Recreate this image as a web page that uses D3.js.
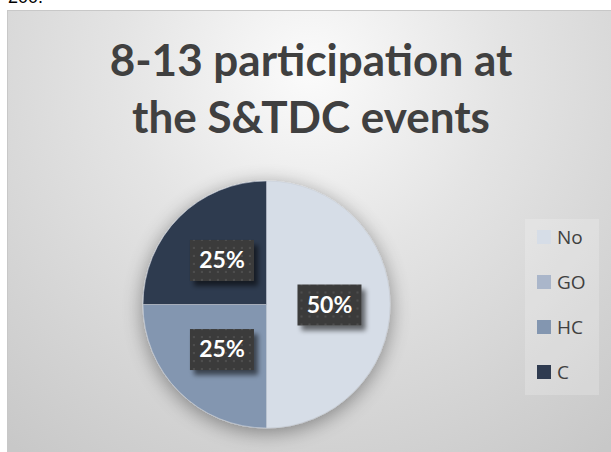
<!DOCTYPE html>
<html>
<head>
<meta charset="utf-8">
<script src="https://cdn.jsdelivr.net/npm/d3@7"></script>
<style>
  html, body { margin: 0; padding: 0; background: #fff; }
  svg { display: block; }
</style>
</head>
<body>
<svg id="chart" width="611" height="452"></svg>
<script>
// Chart data
const categories = ["No", "GO", "HC", "C"];
const values = [50, 0, 25, 25];
const colours = ["#d6dde7", "#aab6ca", "#8396b0", "#2f3b50"];
const titleLines = ["8-13 participation at", "the S&TDC events"];

const svg = d3.select("#chart");
const width = 611, height = 452;
const defs = svg.append("defs");

// Background gradient of the chart area
const bg = defs.append("radialGradient")
    .attr("id", "bgGrad")
    .attr("gradientUnits", "userSpaceOnUse")
    .attr("cx", 310).attr("cy", 70).attr("r", 480);
bg.append("stop").attr("offset", "0%").attr("stop-color", "#fbfbfb");
bg.append("stop").attr("offset", "40%").attr("stop-color", "#e4e4e4");
bg.append("stop").attr("offset", "100%").attr("stop-color", "#c8c8c8");

// Soft shadow for the pie
const pieShadow = defs.append("filter").attr("id", "pieShadow")
    .attr("x", "-30%").attr("y", "-30%").attr("width", "160%").attr("height", "160%");
pieShadow.append("feGaussianBlur").attr("in", "SourceAlpha").attr("stdDeviation", 10).attr("result", "blur");
pieShadow.append("feOffset").attr("dx", 0).attr("dy", 4).attr("result", "off");
pieShadow.append("feComponentTransfer").attr("in", "off").attr("result", "soft")
    .append("feFuncA").attr("type", "linear").attr("slope", 0.4);
const pm = pieShadow.append("feMerge");
pm.append("feMergeNode").attr("in", "soft");
pm.append("feMergeNode").attr("in", "SourceGraphic");

// Shadow for data labels
const lblShadow = defs.append("filter").attr("id", "lblShadow")
    .attr("x", "-30%").attr("y", "-30%").attr("width", "170%").attr("height", "180%");
lblShadow.append("feGaussianBlur").attr("in", "SourceAlpha").attr("stdDeviation", 2.5).attr("result", "blur");
lblShadow.append("feOffset").attr("dx", 4).attr("dy", 5).attr("result", "off");
lblShadow.append("feComponentTransfer").attr("in", "off").attr("result", "soft")
    .append("feFuncA").attr("type", "linear").attr("slope", 0.55);
const lm = lblShadow.append("feMerge");
lm.append("feMergeNode").attr("in", "soft");
lm.append("feMergeNode").attr("in", "SourceGraphic");

// Dotted texture for label boxes
const dots = defs.append("pattern").attr("id", "dots")
    .attr("patternUnits", "userSpaceOnUse").attr("width", 8).attr("height", 8);
dots.append("rect").attr("width", 8).attr("height", 8).attr("fill", "#3b3b3b");
dots.append("rect").attr("x", 3).attr("y", 3).attr("width", 2).attr("height", 2).attr("fill", "#4e4e4e");

// Clipped text fragment above the chart
svg.append("text")
    .attr("x", 8).attr("y", 3)
    .attr("font-family", "Liberation Sans, Arial, sans-serif")
    .attr("font-size", 18)
    .attr("fill", "#000")
    .text("200.");

// Chart area
svg.append("rect")
    .attr("x", 7.5).attr("y", 10.5)
    .attr("width", width).attr("height", height)
    .attr("fill", "url(#bgGrad)")
    .attr("stroke", "#c8c8c8");

// Title
const title = svg.append("text")
    .attr("text-anchor", "middle")
    .attr("font-family", "Lato, 'Open Sans', sans-serif")
    .attr("font-weight", "bold")
    .attr("font-size", 44)
    .attr("fill", "#404040");
title.selectAll("tspan")
    .data(titleLines)
    .join("tspan")
    .attr("x", 311)
    .attr("y", (d, i) => 76 + i * 57)
    .text(d => d);

// Pie
const cx = 266.5, cy = 304.5, radius = 123.5;
const pie = d3.pie().sort(null).value(d => d.value);
const arcs = pie(categories.map((c, i) => ({ name: c, value: values[i], colour: colours[i] })));
const arc = d3.arc().innerRadius(0).outerRadius(radius);
const total = d3.sum(values);

const pieG = svg.append("g")
    .attr("transform", `translate(${cx},${cy})`)
    .attr("filter", "url(#pieShadow)");

pieG.selectAll("path")
    .data(arcs.filter(d => d.data.value > 0))
    .join("path")
    .attr("d", arc)
    .attr("fill", d => d.data.colour)
    .attr("stroke", "#c9d0da")
    .attr("stroke-width", 0.6);

// Data labels
const labelArc = d3.arc().innerRadius(radius * 0.51).outerRadius(radius * 0.51);
const fmt = d3.format(".0%");
const labels = svg.append("g")
    .attr("transform", `translate(${cx},${cy})`)
    .selectAll("g")
    .data(arcs.filter(d => d.data.value > 0))
    .join("g")
    .attr("transform", d => {
        const [x, y] = labelArc.centroid(d);
        return `translate(${x},${y})`;
    });

labels.append("rect")
    .attr("x", -32).attr("y", -20)
    .attr("width", 64).attr("height", 41)
    .attr("fill", "url(#dots)")
    .attr("filter", "url(#lblShadow)");

labels.append("text")
    .attr("text-anchor", "middle")
    .attr("dy", "0.36em")
    .attr("font-family", "Lato, 'Open Sans', sans-serif")
    .attr("font-weight", "bold")
    .attr("font-size", 23)
    .attr("fill", "#ffffff")
    .text(d => fmt(d.data.value / total));

// Legend
const legend = svg.append("g");
legend.append("rect")
    .attr("x", 525).attr("y", 219)
    .attr("width", 74).attr("height", 176)
    .attr("fill", "#ffffff")
    .attr("fill-opacity", 0.2);

const legendY = d3.scalePoint().domain(categories).range([237, 372]);
const items = legend.selectAll("g.item")
    .data(categories)
    .join("g")
    .attr("class", "item")
    .attr("transform", d => `translate(537,${legendY(d)})`);

items.append("rect")
    .attr("x", 0).attr("y", -7)
    .attr("width", 14).attr("height", 14)
    .attr("fill", (d, i) => colours[i]);

items.append("text")
    .attr("x", 20).attr("dy", "0.36em")
    .attr("font-family", "'Open Sans', sans-serif")
    .attr("font-size", 19)
    .attr("fill", "#404040")
    .text(d => d);
</script>
</body>
</html>
